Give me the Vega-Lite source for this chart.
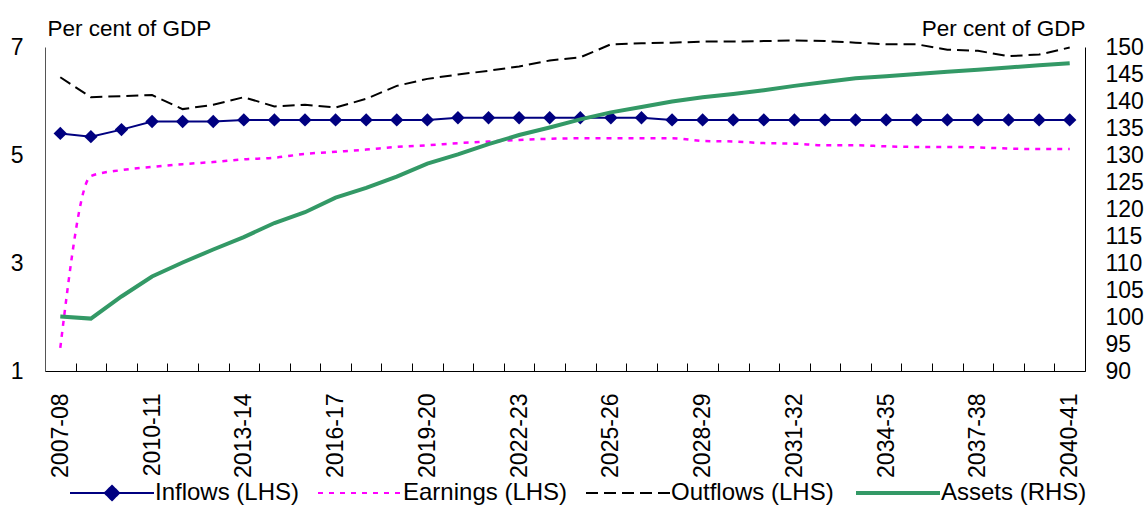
{
  "$schema": "https://vega.github.io/schema/vega-lite/v6.json",
  "autosize": {"type": "none"},
  "padding": {"left": 45, "top": 47, "right": 63, "bottom": 136},
  "width": 1040,
  "height": 324,
  "background": "white",
  "datasets": {
    "lhs": [
      {"year": "2007-08", "Inflows": 5.40, "Earnings": 1.43, "Outflows": 6.44},
      {"year": "2008-09", "Inflows": 5.34, "Earnings": 4.61, "Outflows": 6.07},
      {"year": "2009-10", "Inflows": 5.47, "Earnings": 4.72, "Outflows": 6.09},
      {"year": "2010-11", "Inflows": 5.62, "Earnings": 4.78, "Outflows": 6.11},
      {"year": "2011-12", "Inflows": 5.62, "Earnings": 4.83, "Outflows": 5.85},
      {"year": "2012-13", "Inflows": 5.62, "Earnings": 4.87, "Outflows": 5.93},
      {"year": "2013-14", "Inflows": 5.65, "Earnings": 4.92, "Outflows": 6.07},
      {"year": "2014-15", "Inflows": 5.65, "Earnings": 4.95, "Outflows": 5.90},
      {"year": "2015-16", "Inflows": 5.65, "Earnings": 5.02, "Outflows": 5.93},
      {"year": "2016-17", "Inflows": 5.65, "Earnings": 5.06, "Outflows": 5.88},
      {"year": "2017-18", "Inflows": 5.65, "Earnings": 5.10, "Outflows": 6.04},
      {"year": "2018-19", "Inflows": 5.65, "Earnings": 5.15, "Outflows": 6.28},
      {"year": "2019-20", "Inflows": 5.65, "Earnings": 5.18, "Outflows": 6.41},
      {"year": "2020-21", "Inflows": 5.69, "Earnings": 5.22, "Outflows": 6.49},
      {"year": "2021-22", "Inflows": 5.69, "Earnings": 5.25, "Outflows": 6.56},
      {"year": "2022-23", "Inflows": 5.69, "Earnings": 5.28, "Outflows": 6.64},
      {"year": "2023-24", "Inflows": 5.69, "Earnings": 5.30, "Outflows": 6.75},
      {"year": "2024-25", "Inflows": 5.69, "Earnings": 5.31, "Outflows": 6.81},
      {"year": "2025-26", "Inflows": 5.69, "Earnings": 5.31, "Outflows": 7.05},
      {"year": "2026-27", "Inflows": 5.69, "Earnings": 5.31, "Outflows": 7.07},
      {"year": "2027-28", "Inflows": 5.65, "Earnings": 5.31, "Outflows": 7.08},
      {"year": "2028-29", "Inflows": 5.65, "Earnings": 5.26, "Outflows": 7.10},
      {"year": "2029-30", "Inflows": 5.65, "Earnings": 5.25, "Outflows": 7.10},
      {"year": "2030-31", "Inflows": 5.65, "Earnings": 5.22, "Outflows": 7.11},
      {"year": "2031-32", "Inflows": 5.65, "Earnings": 5.21, "Outflows": 7.12},
      {"year": "2032-33", "Inflows": 5.65, "Earnings": 5.18, "Outflows": 7.11},
      {"year": "2033-34", "Inflows": 5.65, "Earnings": 5.18, "Outflows": 7.08},
      {"year": "2034-35", "Inflows": 5.65, "Earnings": 5.16, "Outflows": 7.05},
      {"year": "2035-36", "Inflows": 5.65, "Earnings": 5.15, "Outflows": 7.05},
      {"year": "2036-37", "Inflows": 5.65, "Earnings": 5.15, "Outflows": 6.95},
      {"year": "2037-38", "Inflows": 5.65, "Earnings": 5.14, "Outflows": 6.93},
      {"year": "2038-39", "Inflows": 5.65, "Earnings": 5.12, "Outflows": 6.83},
      {"year": "2039-40", "Inflows": 5.65, "Earnings": 5.11, "Outflows": 6.86},
      {"year": "2040-41", "Inflows": 5.65, "Earnings": 5.11, "Outflows": 6.99}
    ],
    "rhs": [
      {"year": "2007-08", "Assets": 100.1},
      {"year": "2008-09", "Assets": 99.7},
      {"year": "2009-10", "Assets": 103.8},
      {"year": "2010-11", "Assets": 107.5},
      {"year": "2011-12", "Assets": 110.1},
      {"year": "2012-13", "Assets": 112.5},
      {"year": "2013-14", "Assets": 114.8},
      {"year": "2014-15", "Assets": 117.4},
      {"year": "2015-16", "Assets": 119.4},
      {"year": "2016-17", "Assets": 122.1},
      {"year": "2017-18", "Assets": 123.9},
      {"year": "2018-19", "Assets": 126.0},
      {"year": "2019-20", "Assets": 128.4},
      {"year": "2020-21", "Assets": 130.1},
      {"year": "2021-22", "Assets": 132.0},
      {"year": "2022-23", "Assets": 133.7},
      {"year": "2023-24", "Assets": 135.1},
      {"year": "2024-25", "Assets": 136.6},
      {"year": "2025-26", "Assets": 137.9},
      {"year": "2026-27", "Assets": 138.9},
      {"year": "2027-28", "Assets": 139.9},
      {"year": "2028-29", "Assets": 140.7},
      {"year": "2029-30", "Assets": 141.3},
      {"year": "2030-31", "Assets": 142.0},
      {"year": "2031-32", "Assets": 142.8},
      {"year": "2032-33", "Assets": 143.5},
      {"year": "2033-34", "Assets": 144.2},
      {"year": "2034-35", "Assets": 144.6},
      {"year": "2035-36", "Assets": 145.0},
      {"year": "2036-37", "Assets": 145.4},
      {"year": "2037-38", "Assets": 145.8},
      {"year": "2038-39", "Assets": 146.2},
      {"year": "2039-40", "Assets": 146.6},
      {"year": "2040-41", "Assets": 147.0}
    ]
  },
  "encoding": {
    "x": {
      "field": "year",
      "type": "ordinal",
      "sort": null,
      "bandPosition": 0.5,
      "scale": {"type": "band", "paddingInner": 0, "paddingOuter": 0},
      "axis": {
        "title": null,
        "labelAngle": -90,
        "labelAlign": "right",
        "labelBaseline": "middle",
        "labelPadding": 30,
        "labelExpr": "toNumber(substring(datum.label, 0, 4)) % 3 == 0 ? datum.label : ''",
        "tickBand": "extent",
        "tickSize": -8,
        "tickColor": "black",
        "domainColor": "black",
        "labelFontSize": 23
      }
    }
  },
  "layer": [
    {
      "data": {"name": "lhs"},
      "transform": [
        {"fold": ["Inflows", "Earnings", "Outflows"], "as": ["key", "value"]},
        {"calculate": "datum.key + ' (LHS)'", "as": "series"}
      ],
      "encoding": {
        "y": {
          "field": "value",
          "type": "quantitative",
          "scale": {"domain": [1, 7], "nice": false, "zero": false},
          "axis": {
            "values": [1, 3, 5, 7],
            "ticks": false,
            "grid": false,
            "domainColor": "#555555",
            "labelPadding": 22,
            "labelFontSize": 23,
            "title": "Per cent of GDP",
            "titleAngle": 0,
            "titleAlign": "left",
            "titleBaseline": "alphabetic",
            "titleX": 2,
            "titleY": -12
          }
        },
        "color": {
          "field": "series",
          "type": "nominal",
          "scale": {
            "domain": ["Inflows (LHS)", "Earnings (LHS)", "Outflows (LHS)", "Assets (RHS)"],
            "range": ["#000080", "#ff00ff", "#000000", "#339966"]
          },
          "legend": {
            "orient": "none",
            "legendX": 24,
            "legendY": 434,
            "direction": "horizontal",
            "title": null,
            "symbolType": "stroke",
            "symbolSize": 7056,
            "symbolStrokeWidth": 2,
            "symbolOffset": 31,
            "labelFontSize": 24,
            "labelOffset": 31,
            "labelLimit": 400,
            "columnPadding": 14,
            "encode": {
              "symbols": {
                "update": {
                  "shape": {"signal": "datum.value == 'Inflows (LHS)' ? 'M-1,0L1,0M-0.17,0L0,-0.17L0.17,0L0,0.17Z' : 'M-1,0L1,0'"},
                  "strokeDash": {"signal": "datum.value == 'Earnings (LHS)' ? [5, 6] : datum.value == 'Outflows (LHS)' ? [12, 6] : [1, 0]"},
                  "strokeWidth": {"signal": "datum.value == 'Assets (RHS)' ? 4 : 2"},
                  "fill": {"signal": "datum.value == 'Inflows (LHS)' ? '#000080' : 'transparent'"}
                }
              }
            }
          }
        }
      },
      "layer": [
        {
          "transform": [{"filter": "datum.key == 'Outflows'"}],
          "mark": {"type": "line", "strokeWidth": 2, "strokeDash": [12, 6]}
        },
        {
          "transform": [{"filter": "datum.key == 'Earnings'"}],
          "mark": {"type": "line", "strokeWidth": 2.5, "strokeDash": [5, 6], "interpolate": "monotone"}
        },
        {
          "transform": [{"filter": "datum.key == 'Inflows'"}],
          "mark": {"type": "line", "strokeWidth": 2}
        },
        {
          "transform": [{"filter": "datum.key == 'Inflows'"}],
          "mark": {"type": "point", "shape": "diamond", "filled": true, "size": 180, "opacity": 1}
        }
      ]
    },
    {
      "data": {"name": "rhs"},
      "transform": [
        {"fold": ["Assets"], "as": ["key", "value"]},
        {"calculate": "datum.key + ' (RHS)'", "as": "series"}
      ],
      "mark": {"type": "line", "strokeWidth": 4},
      "encoding": {
        "y": {
          "field": "value",
          "type": "quantitative",
          "scale": {"domain": [90, 150], "nice": false, "zero": false},
          "axis": {
            "orient": "right",
            "values": [90, 95, 100, 105, 110, 115, 120, 125, 130, 135, 140, 145, 150],
            "ticks": false,
            "grid": false,
            "domainColor": "#000000",
            "labelPadding": 20,
            "labelFontSize": 23,
            "title": "Per cent of GDP",
            "titleAngle": 0,
            "titleAlign": "right",
            "titleBaseline": "alphabetic",
            "titleX": 0,
            "titleY": -12
          }
        },
        "color": {"field": "series", "type": "nominal"}
      }
    }
  ],
  "resolve": {"scale": {"y": "independent"}},
  "config": {
    "view": {"stroke": null},
    "font": "Liberation Sans",
    "axis": {"labelFont": "Liberation Sans", "titleFont": "Liberation Sans", "labelColor": "black", "titleColor": "black", "titleFontSize": 22.5, "titleFontWeight": "normal", "labelFlush": false, "labelOverlap": false},
    "legend": {"labelFont": "Liberation Sans", "labelColor": "black"}
  }
}
